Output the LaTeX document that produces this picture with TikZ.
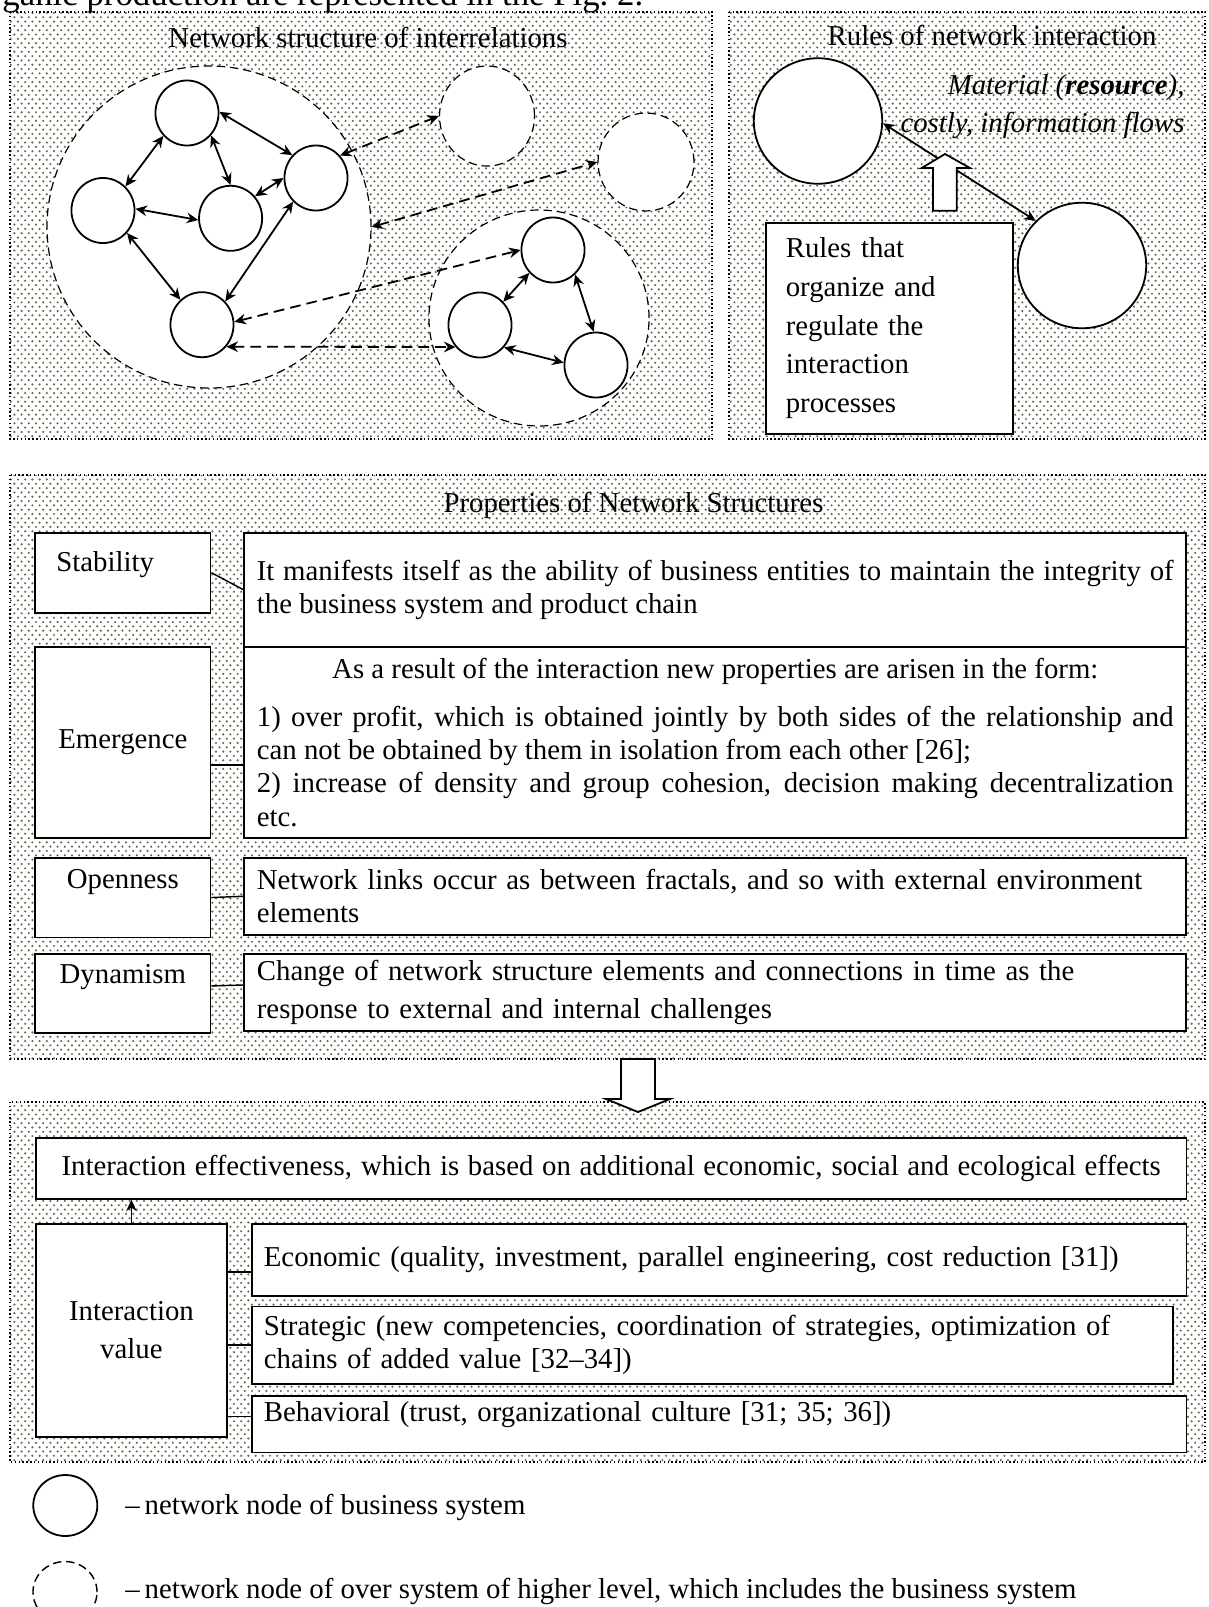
\documentclass[tikz,border=0pt]{standalone}
\usepackage{fontspec}
\setmainfont{Liberation Serif}
\usepackage{tikz}
\usetikzlibrary{patterns.meta,arrows.meta,shapes.geometric,calc}
\definecolor{dotgray}{RGB}{105,105,80}
\pgfdeclarepattern{
  name=refdots,
  type=uncolored,
  bottom left={\pgfpoint{-0.6pt}{-0.6pt}},
  top right={\pgfpoint{2.4pt}{3pt}},
  tile size={\pgfpoint{3pt}{3.6pt}},
  code={
    \pgfpathcircle{\pgfpoint{0pt}{0pt}}{0.5pt}
    \pgfpathcircle{\pgfpoint{1.5pt}{1.8pt}}{0.5pt}
    \pgfusepath{fill}
  }
}

\begin{document}
\begin{tikzpicture}[x=0.41667pt, y=-0.41667pt, font=\fontsize{12}{13.8}\selectfont,
    >={Stealth[length=4.8pt,width=4.4pt]},
    panel/.style={densely dotted, line width=0.6pt, pattern=refdots, pattern color=dotgray},
    bnode/.style={ellipse, draw, fill=white, line width=0.75pt, minimum width=26.3pt, minimum height=27.1pt, inner sep=0pt},
    hnode/.style={ellipse, draw, fill=white, line width=0.5pt, dash pattern=on 3.5pt off 2pt, inner sep=0pt},
    link/.style={<->, line width=0.75pt},
    dlink/.style={<->, line width=0.75pt, dash pattern=on 4.5pt off 2.5pt},
    box/.style={draw, fill=white, line width=0.75pt, anchor=north west, inner ysep=1pt},
    txtbox/.style={box, text width=382pt, inner xsep=5.25pt, align=left},
    conn/.style={line width=0.6pt},
    title/.style={inner sep=0pt}]
  \useasboundingbox (0,0) rectangle (1208,1607);
  \clip (0,0) rectangle (1208,1607);

  \node[anchor=base west, inner sep=0pt, font=\fontsize{14.5}{16}\selectfont] (intro) at (2,5) {ganic production are represented in the Fig.~2.};

  % Network structure
  \draw[panel] (10,12) rectangle (712,439);
  \node[title] (netT) at (368,38) {Network structure of interrelations};
  \node[hnode, minimum width=135pt, minimum height=134.2pt] (L) at (209,227) {};
  \node[hnode, minimum width=91.7pt, minimum height=90pt] (R) at (539,318) {};
  \node[hnode, minimum width=39.6pt, minimum height=41.7pt] (D1) at (487,116) {};
  \node[hnode, minimum width=40pt, minimum height=40.8pt] (D2) at (646,162) {};
  \node[bnode] (n1) at (187,113) {};
  \node[bnode] (n2) at (103,210.5) {};
  \node[bnode] (n3) at (230.6,218.3) {};
  \node[bnode] (n4) at (316,178) {};
  \node[bnode] (n5) at (202,324.7) {};
  \node[bnode] (r1) at (553,250) {};
  \node[bnode] (r2) at (480,325) {};
  \node[bnode] (r3) at (596,365) {};
  \draw[link] (n1.2) -- (n4.136);
  \draw[link] (n1.224) -- (n2.47);
  \draw[link] (n1.-43) -- (n3.90);
  \draw[link] (n2.3) -- (n3.183);
  \draw[link] (n3.42) -- (n4.180);
  \draw[link] (n2.-43) -- (n5.131);
  \draw[link] (n4.226) -- (n5.45);
  \draw[link] (r1.224) -- (r2.45);
  \draw[link] (r1.-48) -- (r3.94);
  \draw[link] (r2.-43) -- (r3.176);
  \draw[dlink] (n4.43) -- (D1.west);
  \draw[dlink] (L.east) -- (D2.west);
  \draw[dlink] (n5.5) -- (r1.west);
  \draw[dlink] (n5.-42) -- (r2.-138);

  % Rules
  \draw[panel] (729,12) rectangle (1205,439);
  \node[title] (ruleT) at (992,36) {Rules of network interaction};
  \node[bnode, minimum width=53.5pt, minimum height=52.3pt] (A) at (818,121) {};
  \node[bnode, minimum width=53.5pt, minimum height=52.3pt] (B) at (1082,265.5) {};
  \node[anchor=east, inner sep=0pt, align=right, font=\fontsize{12}{13.8}\selectfont\itshape] (flows) at (1185,106.5) {Material (\textbf{resource}),\\[2.3pt]costly, information flows};
  \draw[link] (A.-2) -- (B.136);
  \draw[line width=0.75pt, fill=white] (933,210.7) -- (933,168) -- (921.7,168) -- (945,154) -- (970,168) -- (956.7,168) -- (956.7,210.7) -- cycle;
  \node[box, minimum width=102.9pt, minimum height=88pt, text width=86.3pt, inner xsep=8.3pt, align=left] (rules) at (765,221.7) {Rules that\\[2.3pt] organize and\\[2.3pt] regulate the\\[2.3pt] interaction\\[2.3pt] processes};

  % Properties
  \draw[panel] (10,475) rectangle (1205,1059);
  \node[title] (propT) at (633.5,505) {Properties of Network Structures};
  \node[box, text width=55.4pt, inner xsep=8.8pt, inner ysep=0pt, text height=16pt, text depth=17.4pt, align=left] (stab) at (34.4,531.7) {Stability};
  \node[box, minimum width=73pt, minimum height=79.6pt] (emer) at (34.4,646) {Emergence};
  \node[box, minimum width=73pt, inner ysep=0pt, text height=13pt, text depth=20.3pt] (open) at (34.4,856.7) {Openness};
  \node[box, minimum width=73pt, inner ysep=0pt, text height=12.5pt, text depth=20.4pt] (dyn) at (34.4,953) {Dynamism};
  \node[txtbox, minimum height=47.6pt, align=justify] (stabT) at (243.4,531.7) {It manifests itself as the ability of business entities to maintain the integrity of\linebreak the business system and product chain};
  \node[txtbox, minimum height=79.6pt, align=justify] (emerT) at (243.4,646) {{\centering As a result of the interaction new properties are arisen in the form:\par}\vspace{6.2pt}1) over profit, which is obtained jointly by both sides of the relationship and\linebreak can not be obtained by them in isolation from each other [26];\\2) increase of density and group cohesion, decision making decentralization\linebreak etc.};
  \node[txtbox, minimum height=32.2pt] (openT) at (243.4,856.7) {Network links occur as between fractals, and so with external environment\\ elements};
  \node[txtbox, minimum height=32.1pt] (dynT) at (243.4,953) {Change of network structure elements and connections in time as the\\[2pt] response to external and internal challenges};
  \draw[conn] (stab.east) -- (stabT.west);
  \draw[conn] ([yshift=-9.4pt]emer.east) -- ([yshift=-9.4pt]emerT.west);
  \draw[conn] (open.east) -- (openT.west);
  \draw[conn] ([yshift=3.1pt]dyn.east) -- ([yshift=3.1pt]dynT.west);

  % Value
  \draw[panel] (10,1102) rectangle (1205,1462);
  \draw[line width=0.75pt, fill=white] (621,1059) -- (621,1099) -- (606,1099) -- (638,1112) -- (670,1099) -- (655,1099) -- (655,1059) -- cycle;
  \node[box, minimum width=479.4pt, minimum height=25.5pt] (ieff) at (35,1136.7) {\makebox[458pt][s]{Interaction effectiveness, which is based on additional economic, social and ecological effects}};
  \node[box, minimum width=79.6pt, minimum height=88.9pt, align=center] (ival) at (35,1222.7) {Interaction\\[2pt] value};
  \node[box, minimum height=30pt, text width=379.4pt, inner xsep=5pt, align=left] (econ) at (251,1223) {Economic (quality, investment, parallel engineering, cost reduction [31])};
  \node[box, minimum height=32.3pt, text width=373.75pt, inner xsep=5pt, align=left] (strat) at (251,1305.5) {Strategic (new competencies, coordination of strategies, optimization of\\ chains of added value [32--34])};
  \node[box, inner ysep=0pt, text height=10.8pt, text depth=12.8pt, text width=379.4pt, inner xsep=5pt, align=left] (behav) at (251,1395) {Behavioral (trust, organizational culture [31; 35; 36])};
  \draw[conn, ->] (ival.north) -- (ival.north |- ieff.south);
  \draw[conn] ($(econ.west)+(0,12)$) -- ($(econ.west -| ival.east)+(0,12)$);
  \draw[conn] (strat.west) -- (strat.west -| ival.east);
  \draw[conn] ($(behav.west)+(0,-8)$) -- ($(behav.west -| ival.east)+(0,-8)$);

  % Legend
  \node[bnode, minimum width=26.7pt, minimum height=25.4pt] (lg1) at (65.3,1505.5) {};
  \node[anchor=west, inner sep=0pt] (lg1T) at (125,1507) {--\,network node of business system};
  \node[hnode, line width=0.6pt, minimum width=26.7pt, minimum height=25.4pt] (lg2) at (65,1592) {};
  \node[anchor=west, inner sep=0pt] (lg2T) at (125,1591) {--\,network node of over system of higher level, which includes the business system};
\end{tikzpicture}
\end{document}
